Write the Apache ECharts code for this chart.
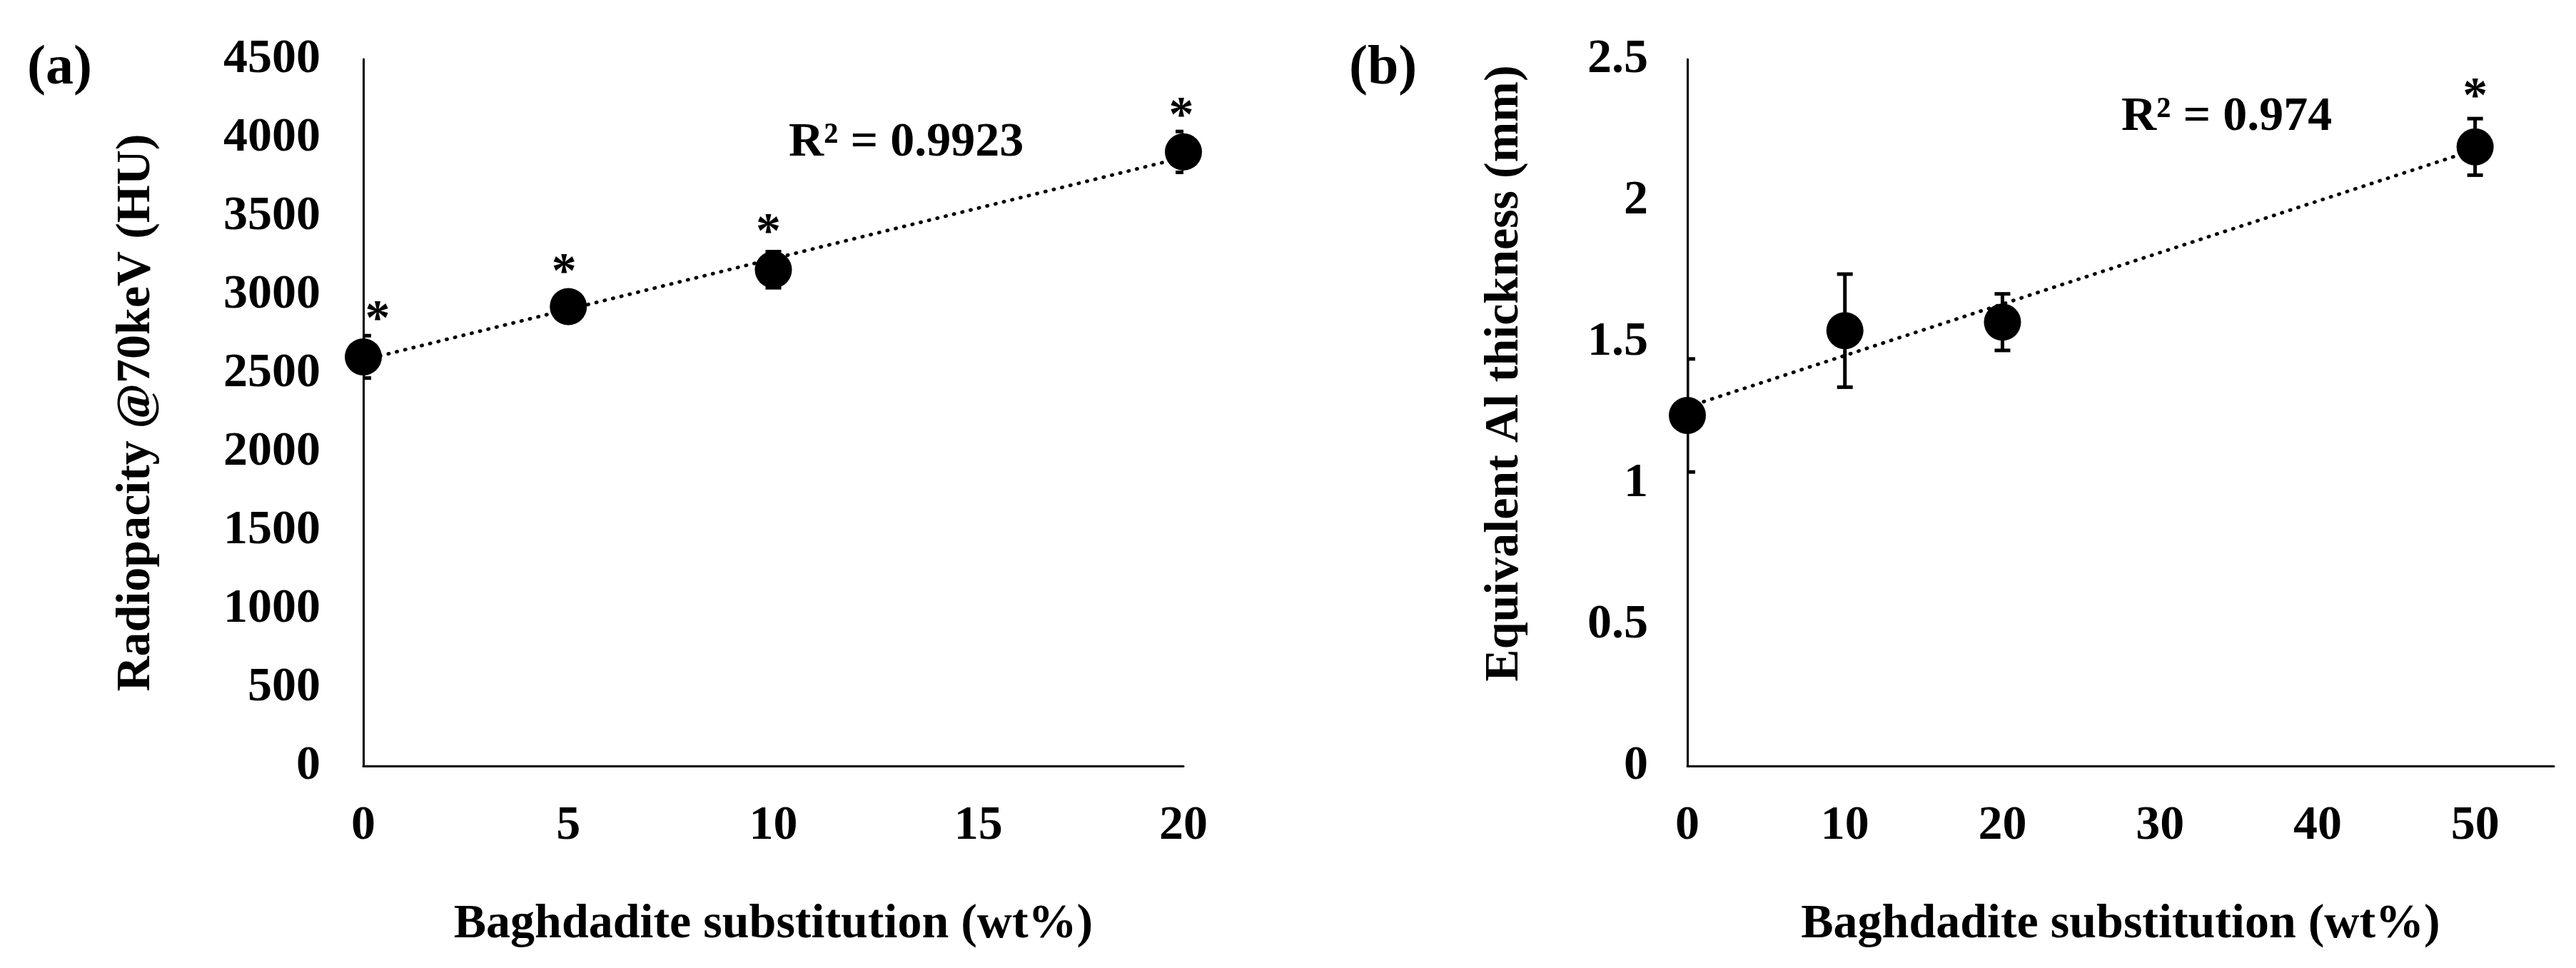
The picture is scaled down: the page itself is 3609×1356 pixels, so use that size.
<!DOCTYPE html>
<html>
<head>
<meta charset="utf-8">
<script src="https://cdn.jsdelivr.net/npm/echarts@6/dist/echarts.min.js"></script>
<style>
html,body{margin:0;padding:0;background:#fff}
#chart{width:3609px;height:1356px}
</style>
</head>
<body>
<div id="chart"></div>
<script>
// panel (a)
var xA = [0, 5, 10, 20];
var radiopacity = [2605, 2925, 3160, 3910];
var radiopacityErr = [135, 50, 115, 130];
var starA = [true, true, true, true];
var trendAx = [0, 20];
var trendAy = [2585, 3875];

// panel (b)
var xB = [0, 10, 20, 50];
var alThickness = [1.24, 1.54, 1.57, 2.19];
var alErr = [0.2, 0.2, 0.1, 0.1];
var starB = [false, false, false, true];
var trendBx = [0, 50];
var trendBy = [1.27, 2.18];

var r2A = 'R² = 0.9923';
var r2B = 'R² = 0.974';
var xTitle = 'Baghdadite substitution (wt%)';
var yTitleA = 'Radiopacity @70keV (HU)';
var yTitleB = 'Equivalent Al thickness (mm)';

var FONT = 'Liberation Serif';
var txt = {fontFamily: FONT, fontWeight: 'bold', fontSize: 68, color: '#000'};

function pts(xs, ys, stars, offsets) {
  return xs.map(function (x, i) {
    var item = {value: [x, ys[i]]};
    if (stars[i]) {
      item.label = {show: true, formatter: '*', position: 'inside',
        offset: offsets[i], fontFamily: FONT, fontWeight: 'bold', fontSize: 70, color: '#000'};
    }
    return item;
  });
}

// error bars, clipped to the plot area like Excel does
function errBars(xs, ys, errs, idx) {
  return {
    type: 'custom',
    xAxisIndex: idx, yAxisIndex: idx,
    clip: true,
    data: xs.map(function (x, i) { return [x, ys[i] - errs[i], ys[i] + errs[i]]; }),
    encode: {x: 0, y: [1, 2]},
    z: 3,
    renderItem: function (params, api) {
      var lo = api.coord([api.value(0), api.value(1)]);
      var hi = api.coord([api.value(0), api.value(2)]);
      var cap = 11;
      var st = {stroke: '#000', lineWidth: 5};
      return {type: 'group', children: [
        {type: 'line', shape: {x1: lo[0], y1: lo[1], x2: hi[0], y2: hi[1]}, style: st},
        {type: 'line', shape: {x1: hi[0] - cap, y1: hi[1], x2: hi[0] + cap, y2: hi[1]}, style: st},
        {type: 'line', shape: {x1: lo[0] - cap, y1: lo[1], x2: lo[0] + cap, y2: lo[1]}, style: st}
      ]};
    }
  };
}

function trend(xs, ys, idx) {
  return {
    type: 'line', xAxisIndex: idx, yAxisIndex: idx,
    data: xs.map(function (x, i) { return [x, ys[i]]; }),
    symbol: 'none', z: 2,
    lineStyle: {color: '#000', width: 5, type: [1, 11], cap: 'round'}
  };
}

function axisCommon() {
  return {
    axisLine: {show: true, onZero: false, lineStyle: {color: '#000', width: 3}},
    axisTick: {show: false},
    splitLine: {show: false},
    nameTextStyle: {fontFamily: FONT, fontWeight: 'bold', fontSize: 68, color: '#000'}
  };
}

function plain(v) { return String(v); }

var myChart = echarts.init(document.getElementById('chart'));

var option = {
  animation: false,
  backgroundColor: '#fff',
  grid: [
    {left: 509, top: 83, width: 1149, height: 990},
    {left: 2364, top: 83, width: 1214, height: 990}
  ],
  xAxis: [
    Object.assign(axisCommon(), {
      type: 'value', gridIndex: 0, min: 0, max: 20, interval: 5,
      name: xTitle, nameLocation: 'middle', nameGap: 188,
      axisLabel: Object.assign({margin: 50, formatter: plain}, txt)
    }),
    Object.assign(axisCommon(), {
      type: 'value', gridIndex: 1, min: 0, max: 55, interval: 10,
      name: xTitle, nameLocation: 'middle', nameGap: 188,
      axisLabel: Object.assign({margin: 50, showMaxLabel: false,
        formatter: function (v) { return v % 10 === 0 ? String(v) : ''; }}, txt)
    })
  ],
  yAxis: [
    Object.assign(axisCommon(), {
      type: 'value', gridIndex: 0, min: 0, max: 4500, interval: 500,
      name: yTitleA, nameLocation: 'middle', nameGap: 284,
      axisLabel: Object.assign({margin: 60, formatter: plain}, txt)
    }),
    Object.assign(axisCommon(), {
      type: 'value', gridIndex: 1, min: 0, max: 2.5, interval: 0.5,
      name: yTitleB, nameLocation: 'middle', nameGap: 222,
      nameTextStyle: {fontFamily: FONT, fontWeight: 'bold', fontSize: 68, color: '#000',
        padding: [0, 0, 0, 110]},
      axisLabel: Object.assign({margin: 55, formatter: plain}, txt)
    })
  ],
  series: [
    trend(trendAx, trendAy, 0),
    errBars(xA, radiopacity, radiopacityErr, 0),
    {
      type: 'scatter', xAxisIndex: 0, yAxisIndex: 0, z: 4,
      symbol: 'circle', symbolSize: 52, itemStyle: {color: '#000', opacity: 1},
      data: pts(xA, radiopacity, starA, [[20, -50], [-6, -46], [-7, -50], [-3, -48]])
    },
    trend(trendBx, trendBy, 1),
    errBars(xB, alThickness, alErr, 1),
    {
      type: 'scatter', xAxisIndex: 1, yAxisIndex: 1, z: 4,
      symbol: 'circle', symbolSize: 52, itemStyle: {color: '#000', opacity: 1},
      data: pts(xB, alThickness, starB, [null, null, null, [0, -68]])
    }
  ],
  graphic: [
    {type: 'text', left: 38, top: 58, style: {text: '(a)', font: 'bold 78px "Liberation Serif"', fill: '#000'}},
    {type: 'text', left: 1890, top: 58, style: {text: '(b)', font: 'bold 78px "Liberation Serif"', fill: '#000'}},
    {type: 'text', left: 1105, top: 166, style: {text: r2A, font: 'bold 68px "Liberation Serif"', fill: '#000'}},
    {type: 'text', left: 2972, top: 130, style: {text: r2B, font: 'bold 68px "Liberation Serif"', fill: '#000'}}
  ]
};

myChart.setOption(option);
</script>
</body>
</html>
